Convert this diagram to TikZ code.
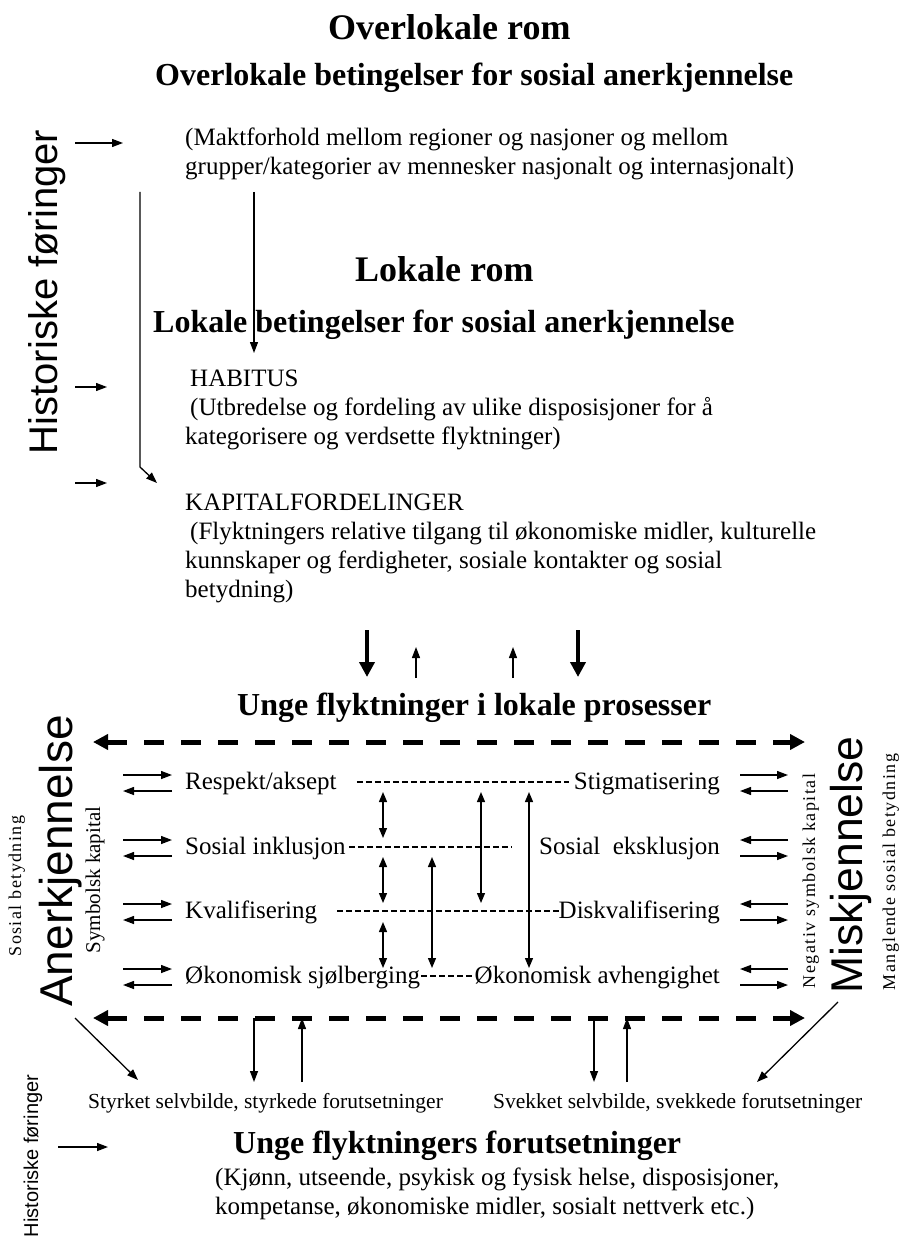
\documentclass[tikz,border=0pt]{standalone}
\usepackage{fontspec}
\setmainfont{Liberation Serif}
\newfontfamily\arialfont{Liberation Sans}
\usetikzlibrary{arrows.meta}

\begin{document}
\begin{tikzpicture}[x=1pt,y=-1pt,
    txt/.style={inner sep=0pt,anchor=base west,font=\fontsize{25}{29}\selectfont},
    para/.style={txt,align=left},
    small/.style={inner sep=0pt,anchor=base west,font=\fontsize{21.5}{24}\selectfont},
    head/.style={inner sep=0pt,anchor=base west,font=\fontsize{32}{38}\selectfont\bfseries},
    rom/.style={inner sep=0pt,anchor=base west,font=\fontsize{36}{42}\selectfont\bfseries},
    side/.style={inner sep=0pt,anchor=base,rotate=90},
    arr/.style={line width=1.3pt,-{Triangle[length=11pt,width=8pt]}},
    biarr/.style={line width=1.3pt,{Triangle[length=10pt,width=8pt]}-{Triangle[length=10pt,width=8pt]}},
    bigarr/.style={line width=4.5pt,-{Triangle[length=15pt,width=15pt]}},
    dasharr/.style={line width=5pt,dash pattern=on 20pt off 17pt,
        {Triangle[length=15pt,width=15pt]}-{Triangle[length=15pt,width=15pt]}},
    hyph/.style={line width=1.2pt,dash pattern=on 6pt off 3pt}]
    \useasboundingbox (0,0) rectangle (901,1238);

    % overlokale rom
    \node[rom] (overRom) at (328,40) {Overlokale rom};
    \node[head] (overBet) at (155,86) {Overlokale betingelser for sosial anerkjennelse};
    \node[para] (makt) at (185,175) {(Maktforhold mellom regioner og nasjoner og mellom\\grupper/kategorier av mennesker nasjonalt og internasjonalt)};

    % lokale rom
    \node[rom] (lokRom) at (355,282) {Lokale rom};
    \node[head] (lokBet) at (153,332) {Lokale betingelser for sosial anerkjennelse};
    \node[para] (habitus) at (185,444) {\hspace*{5pt}HABITUS\\\hspace*{5pt}(Utbredelse og fordeling av ulike disposisjoner for å\\kategorisere og verdsette flyktninger)};
    \node[para] (kapital) at (185,597) {KAPITALFORDELINGER\\\hspace*{5pt}(Flyktningers relative tilgang til økonomiske midler, kulturelle\\kunnskaper og ferdigheter, sosiale kontakter og sosial\\betydning)};

    \node[side,font=\arialfont\fontsize{40}{44}\selectfont] (histTop) at (57,292) {Historiske føringer};
    \coordinate (h1) at (75,143);
    \coordinate (h2) at (75,387);
    \coordinate (h3) at (75,483);
    \draw[arr] (h1) -- ++(48,0);
    \draw[arr] (h2) -- ++(32,0);
    \draw[arr] (h3) -- ++(32,0);
    \coordinate (ovTop) at (254,192);
    \coordinate (ovBot) at (254,353);
    \draw[arr] (ovTop) -- (ovBot);
    \coordinate (hlTop) at (140,192);
    \coordinate (hlBot) at (140,467);
    \coordinate (hlEnd) at (157,483);
    \draw[arr] (hlTop) -- (hlBot) -- (hlEnd);

    % mellom lokale betingelser og prosesser
    \coordinate (d1) at (367,630);
    \coordinate (d2) at (578,630);
    \coordinate (u1) at (416,678);
    \coordinate (u2) at (513,678);
    \draw[bigarr] (d1) -- ++(0,47);
    \draw[bigarr] (d2) -- ++(0,47);
    \draw[arr] (u1) -- ++(0,-31);
    \draw[arr] (u2) -- ++(0,-31);

    % lokale prosesser
    \node[head] (ungeProc) at (237,715) {Unge flyktninger i lokale prosesser};
    \coordinate (dashTopL) at (93,742);
    \coordinate (dashTopR) at (805,742);
    \coordinate (dashBotL) at (93,1018);
    \coordinate (dashBotR) at (805,1018);
    \draw[dasharr] (dashTopL) -- (dashTopR);
    \draw[dasharr] (dashBotL) -- (dashBotR);

    \node[txt] (resp) at (185,789) {Respekt/aksept};
    \node[txt] (inkl) at (185,854) {Sosial inklusjon};
    \node[txt] (kval) at (185,918) {Kvalifisering};
    \node[txt] (okSelv) at (185,983) {Økonomisk sjølberging};
    \node[txt,anchor=base east] (stig) at (720,789) {Stigmatisering};
    \node[txt,anchor=base east] (ekskl) at (720,854) {Sosial~~eksklusjon};
    \node[txt,anchor=base east] (diskval) at (720,918) {Diskvalifisering};
    \node[txt,anchor=base east] (okAvh) at (720,983) {Økonomisk avhengighet};

    \draw[hyph] ([shift={(20,-7)}]resp.base east) -- ([shift={(-5,-7)}]stig.base west);
    \draw[hyph] ([shift={(3,-7)}]inkl.base east) -- ([shift={(-27,-7)}]ekskl.base west);
    \draw[hyph] ([shift={(20,-7)}]kval.base east) -- ([shift={(0,-7)}]diskval.base west);
    \draw[hyph] ([shift={(1,-7)}]okSelv.base east) -- ([shift={(0,-7)}]okAvh.base west);

    \draw[arr] ([shift={(-62,-14)}]resp.base west) -- ++(49,0);
    \draw[arr] ([shift={(-13,2)}]resp.base west) -- ++(-49,0);
    \draw[arr] ([shift={(-62,-14)}]inkl.base west) -- ++(49,0);
    \draw[arr] ([shift={(-13,2)}]inkl.base west) -- ++(-49,0);
    \draw[arr] ([shift={(-62,-14)}]kval.base west) -- ++(49,0);
    \draw[arr] ([shift={(-13,2)}]kval.base west) -- ++(-49,0);
    \draw[arr] ([shift={(-62,-14)}]okSelv.base west) -- ++(49,0);
    \draw[arr] ([shift={(-13,2)}]okSelv.base west) -- ++(-49,0);

    \draw[arr] ([shift={(20,-14)}]stig.base east) -- ++(48,0);
    \draw[arr] ([shift={(68,2)}]stig.base east) -- ++(-48,0);
    \draw[arr] ([shift={(68,-14)}]ekskl.base east) -- ++(-48,0);
    \draw[arr] ([shift={(20,2)}]ekskl.base east) -- ++(48,0);
    \draw[arr] ([shift={(68,-14)}]diskval.base east) -- ++(-48,0);
    \draw[arr] ([shift={(20,2)}]diskval.base east) -- ++(48,0);
    \draw[arr] ([shift={(68,-14)}]okAvh.base east) -- ++(-48,0);
    \draw[arr] ([shift={(20,2)}]okAvh.base east) -- ++(48,0);

    % loddrette piler mellom radene
    \coordinate (a1) at (383,792);  \coordinate (b1) at (383,838);
    \coordinate (a2) at (383,857);  \coordinate (b2) at (383,903);
    \coordinate (a3) at (383,922);  \coordinate (b3) at (383,968);
    \coordinate (a4) at (432,857);  \coordinate (b4) at (432,968);
    \coordinate (a5) at (481,792);  \coordinate (b5) at (481,903);
    \coordinate (a6) at (529,792);  \coordinate (b6) at (529,968);
    \draw[biarr] (a1) -- (b1);
    \draw[biarr] (a2) -- (b2);
    \draw[biarr] (a3) -- (b3);
    \draw[biarr] (a4) -- (b4);
    \draw[biarr] (a5) -- (b5);
    \draw[biarr] (a6) -- (b6);

    % sideord
    \node[side,font=\arialfont\fontsize{46}{50}\selectfont] (anerk) at (72,861) {Anerkjennelse};
    \node[side,font=\fontsize{18}{20}\selectfont\addfontfeature{LetterSpace=8}] (sosBet) at (21,886) {Sosial betydning};
    \node[side,font=\fontsize{21}{24}\selectfont] (symKap) at (100,880) {Symbolsk kapital};
    \node[side,font=\arialfont\fontsize{44.5}{48}\selectfont] (misk) at (862,865) {Miskjennelse};
    \node[side,font=\fontsize{18}{20}\selectfont\addfontfeature{LetterSpace=8}] (negSym) at (815,881) {Negativ symbolsk kapital};
    \node[side,font=\fontsize{18}{20}\selectfont\addfontfeature{LetterSpace=8}] (manglBet) at (895,872) {Manglende sosial betydning};

    % forutsetninger
    \node[small] (styrket) at (88,1108) {Styrket selvbilde, styrkede forutsetninger};
    \node[small] (svekket) at (493,1108) {Svekket selvbilde, svekkede forutsetninger};
    \coordinate (anerkFoot) at (75,1018);
    \coordinate (miskFoot) at (838,1002);
    \draw[arr] (anerkFoot) -- (138,1080);
    \draw[arr] (miskFoot) -- (757,1082);
    \coordinate (s1) at (254,1018);  \coordinate (s2) at (302,1082);
    \coordinate (s3) at (594,1018);  \coordinate (s4) at (627,1082);
    \draw[arr] (s1) -- ++(0,64);
    \draw[arr] (s2) -- ++(0,-64);
    \draw[arr] (s3) -- ++(0,64);
    \draw[arr] (s4) -- ++(0,-64);

    \node[head] (ungeForut) at (233,1153) {Unge flyktningers forutsetninger};
    \node[para] (forut) at (215,1214) {(Kjønn, utseende, psykisk og fysisk helse, disposisjoner,\\kompetanse, økonomiske midler, sosialt nettverk etc.)};
    \node[side,font=\arialfont\fontsize{20}{22}\selectfont] (histBot) at (38,1156) {Historiske føringer};
    \coordinate (h4) at (58,1147);
    \draw[arr] (h4) -- ++(50,0);
\end{tikzpicture}
\end{document}
